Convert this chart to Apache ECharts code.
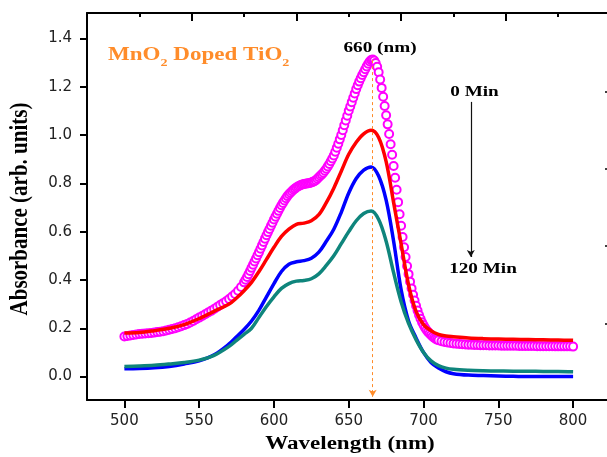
<!DOCTYPE html>
<html>
<head>
<meta charset="utf-8">
<script src="https://cdn.jsdelivr.net/npm/echarts@6/dist/echarts.min.js"></script>
<style>
  html, body { margin: 0; padding: 0; background: #fff; }
  #chart { width: 607px; height: 457px; }
</style>
</head>
<body>
<div id="chart"></div>
<script>
// Axis ticks
const xTickValues = [500, 550, 600, 650, 700, 750, 800];
const yTickValues = [0, 0.2, 0.4, 0.6, 0.8, 1.0, 1.2, 1.4];
const topLongTicks = [545, 615, 685, 755];
const topShortTicks = [510, 580, 650, 720, 790];
const rightTicks = [0.22, 0.54, 0.86, 1.18];

// Shared wavelength grid (nm) for the solid-line spectra
const lineWavelengths = [
  500, 510, 520, 530, 540, 550, 560, 570, 575, 580,
  585, 590, 595, 600, 605, 610, 615, 620, 625, 630,
  635, 640, 645, 650, 655, 660, 665, 670, 675, 680,
  685, 690, 695, 700, 705, 710, 715, 720, 730, 740,
  750, 760, 770, 780, 790, 800
];
const absRed = [
  0.180, 0.182, 0.190, 0.200, 0.215, 0.240, 0.270, 0.300, 0.325, 0.355,
  0.390, 0.435, 0.485, 0.535, 0.580, 0.610, 0.630, 0.635, 0.645, 0.670,
  0.720, 0.780, 0.850, 0.920, 0.970, 1.005, 1.020, 0.990, 0.890, 0.720,
  0.550, 0.380, 0.270, 0.215, 0.190, 0.175, 0.168, 0.165, 0.160, 0.157,
  0.155, 0.154, 0.153, 0.152, 0.151, 0.150
];
const absBlue = [
  0.032, 0.033, 0.036, 0.042, 0.052, 0.065, 0.090, 0.135, 0.165, 0.195,
  0.230, 0.275, 0.330, 0.385, 0.435, 0.465, 0.475, 0.480, 0.490, 0.515,
  0.560, 0.610, 0.680, 0.760, 0.820, 0.855, 0.868, 0.830, 0.730, 0.560,
  0.360, 0.230, 0.160, 0.100, 0.058, 0.035, 0.020, 0.012, 0.006, 0.004,
  0.002, 0.001, 0.000, 0.000, 0.000, 0.000
];
const absTeal = [
  0.042, 0.044, 0.047, 0.052, 0.058, 0.068, 0.088, 0.125, 0.150, 0.175,
  0.200, 0.245, 0.290, 0.330, 0.365, 0.385, 0.395, 0.398, 0.405, 0.425,
  0.460, 0.500, 0.550, 0.600, 0.645, 0.675, 0.685, 0.650, 0.560, 0.430,
  0.310, 0.220, 0.153, 0.100, 0.065, 0.045, 0.035, 0.030, 0.026, 0.024,
  0.023, 0.022, 0.022, 0.021, 0.021, 0.020
];

// Open-circle spectrum (0 min), sampled more finely around the band
const circleWavelengths = [
  500, 502, 504, 506, 508, 510, 512, 514, 516, 518,
  520, 522, 524, 526, 528, 530, 532, 534, 536, 538,
  540, 542, 544, 546, 548, 550, 552, 554, 556, 558,
  560, 562, 564, 566, 568, 570, 572, 574, 576, 578,
  580, 581, 582, 583, 584, 585, 586, 587, 588, 589,
  590, 591, 592, 593, 594, 595, 596, 597, 598, 599,
  600, 601, 602, 603, 604, 605, 606, 607, 608, 609,
  610, 611, 612, 613, 614, 615, 616, 617, 618, 619,
  620, 621, 622, 623, 624, 625, 626, 627, 628, 629,
  630, 631, 632, 633, 634, 635, 636, 637, 638, 639,
  640, 641, 642, 643, 644, 645, 646, 647, 648, 649,
  650, 651, 652, 653, 654, 655, 656, 657, 658, 659,
  660, 661, 662, 663, 664, 665, 666, 667, 668, 669,
  670, 671, 672, 673, 674, 675, 676, 677, 678, 679,
  680, 681, 682, 683, 684, 685, 686, 687, 688, 689,
  690, 691, 692, 693, 694, 695, 696, 697, 698, 699,
  700, 701, 702, 703, 704, 705, 706, 707, 708, 709,
  710,
  712, 714, 716, 718, 720, 722, 724, 726, 728, 730,
  732, 734, 736, 738, 740, 742, 744, 746, 748, 750,
  752, 754, 756, 758, 760, 762, 764, 766, 768, 770,
  772, 774, 776, 778, 780, 782, 784, 786, 788, 790,
  792, 794, 796, 798, 800
];
const absMagenta = [
  0.166, 0.168, 0.170, 0.172, 0.174, 0.176, 0.177, 0.178, 0.179, 0.180,
  0.182, 0.184, 0.186, 0.188, 0.191, 0.194, 0.197, 0.200, 0.204, 0.208,
  0.213, 0.218, 0.224, 0.230, 0.237, 0.244, 0.251, 0.258, 0.265, 0.272,
  0.280, 0.288, 0.296, 0.304, 0.312, 0.321, 0.331, 0.342, 0.355, 0.371,
  0.390, 0.401, 0.412, 0.424, 0.437, 0.450, 0.463, 0.476, 0.489, 0.502,
  0.515, 0.529, 0.543, 0.557, 0.571, 0.585, 0.598, 0.611, 0.624, 0.637,
  0.650, 0.662, 0.674, 0.686, 0.698, 0.709, 0.719, 0.729, 0.738, 0.747,
  0.755, 0.761, 0.767, 0.773, 0.778, 0.783, 0.787, 0.790, 0.793, 0.795,
  0.797, 0.798, 0.799, 0.800, 0.801, 0.803, 0.806, 0.809, 0.813, 0.819,
  0.825, 0.831, 0.837, 0.844, 0.852, 0.860, 0.870, 0.880, 0.891, 0.903,
  0.915, 0.931, 0.947, 0.964, 0.982, 1.000, 1.020, 1.040, 1.060, 1.080,
  1.100, 1.118, 1.136, 1.154, 1.172, 1.190, 1.206, 1.221, 1.235, 1.248,
  1.260, 1.272, 1.284, 1.295, 1.304, 1.310, 1.312, 1.308, 1.298, 1.282,
  1.260, 1.230, 1.195, 1.158, 1.120, 1.082, 1.044, 1.004, 0.962, 0.918,
  0.872, 0.823, 0.773, 0.722, 0.672, 0.624, 0.578, 0.535, 0.495, 0.458,
  0.424, 0.393, 0.365, 0.339, 0.315, 0.293, 0.273, 0.255, 0.239, 0.225,
  0.213, 0.202, 0.193, 0.185, 0.178, 0.172, 0.166, 0.161, 0.157, 0.153,
  0.150,
  0.146, 0.143, 0.141, 0.139, 0.137, 0.136, 0.135, 0.134, 0.133, 0.132,
  0.132, 0.131, 0.131, 0.130, 0.130, 0.130, 0.129, 0.129, 0.129, 0.129,
  0.128, 0.128, 0.128, 0.128, 0.128, 0.128, 0.127, 0.127, 0.127, 0.127,
  0.127, 0.127, 0.126, 0.126, 0.126, 0.126, 0.126, 0.126, 0.125, 0.125,
  0.125, 0.125, 0.125, 0.125, 0.124
];

// Peak marker and time-direction arrow (data coordinates)
const peakWavelength = 666;
const peakAbs = 1.31;
const peakLineBottom = -0.084;
const timeArrowWavelength = 731.6;
const timeArrowTop = 1.137;
const timeArrowBottom = 0.495;

const pairs = (xs, ys) => xs.map((x, i) => [x, ys[i]]);

const COL_MAGENTA = '#ff00ff';
const COL_RED = '#ff0000';
const COL_BLUE = '#0000ff';
const COL_TEAL = '#0f857c';
const COL_ORANGE = '#ff8c2a';
const SERIF = '"Liberation Serif", "Times New Roman", serif';
const SANS = '"DejaVu Sans", sans-serif';
const STRETCH = 1.28;

const chart = echarts.init(document.getElementById('chart'), null, { renderer: 'canvas' });

const axisLineStyle = { color: '#000', width: 2 };

const spectrumLine = (name, values, color, z) => ({
  name, type: 'line', z,
  data: pairs(lineWavelengths, values),
  showSymbol: false, smooth: 0.35,
  lineStyle: { color, width: 3.5, cap: 'butt', join: 'round' },
  emphasis: { disabled: true }, silent: true
});

const tealSeries = spectrumLine('120 Min', absTeal, COL_TEAL, 5);
tealSeries.markLine = {
  silent: true,
  label: { show: false },
  emphasis: { disabled: true },
  symbol: ['none', 'arrow'],
  symbolSize: [6, 7],
  data: [
    [
      { coord: [peakWavelength, peakAbs], lineStyle: { color: COL_ORANGE, type: [3, 3], width: 1 } },
      { coord: [peakWavelength, peakLineBottom] }
    ],
    [
      { coord: [timeArrowWavelength, timeArrowTop], lineStyle: { color: '#111', type: 'solid', width: 1.2 } },
      { coord: [timeArrowWavelength, timeArrowBottom] }
    ]
  ]
};

chart.setOption({
  animation: false,
  backgroundColor: '#fff',
  grid: { left: 87, top: 13, width: 522, height: 387, containLabel: false, outerBoundsMode: 'none' },
  xAxis: [
    {
      type: 'value', position: 'bottom', min: 475, max: 824,
      axisLine: { show: true, onZero: false, lineStyle: axisLineStyle },
      axisTick: { show: true, inside: false, length: 8, customValues: xTickValues, lineStyle: { color: '#000', width: 2 } },
      axisLabel: { show: true, customValues: xTickValues, margin: 14, color: '#222', fontFamily: SANS, fontSize: 15 },
      splitLine: { show: false }
    },
    {
      type: 'value', position: 'top', min: 475, max: 824,
      axisLine: { show: true, onZero: false, lineStyle: axisLineStyle },
      axisTick: { show: true, inside: true, length: 8, customValues: topLongTicks, lineStyle: { color: '#000', width: 2 } },
      axisLabel: { show: false },
      splitLine: { show: false }
    },
    {
      type: 'value', position: 'top', min: 475, max: 824,
      axisLine: { show: false, onZero: false },
      axisTick: { show: true, inside: true, length: 4, customValues: topShortTicks, lineStyle: { color: '#000', width: 2 } },
      axisLabel: { show: false },
      splitLine: { show: false }
    }
  ],
  yAxis: [
    {
      type: 'value', position: 'left', min: -0.097, max: 1.505,
      axisLine: { show: true, onZero: false, lineStyle: axisLineStyle },
      axisTick: { show: true, inside: false, length: 7, customValues: yTickValues, lineStyle: { color: '#000', width: 2 } },
      axisLabel: {
        show: true, customValues: yTickValues, margin: 15, color: '#222', fontFamily: SANS, fontSize: 15,
        formatter: v => v.toFixed(1)
      },
      splitLine: { show: false }
    },
    {
      type: 'value', position: 'right', min: -0.097, max: 1.505,
      axisLine: { show: false, onZero: false },
      axisTick: { show: true, inside: true, length: 4, customValues: rightTicks, lineStyle: { color: '#000', width: 1.5 } },
      axisLabel: { show: false },
      splitLine: { show: false }
    }
  ],
  series: [
    {
      name: '0 Min', type: 'line', z: 2,
      data: pairs(circleWavelengths, absMagenta),
      showSymbol: true, symbol: 'emptyCircle', symbolSize: 8,
      itemStyle: { color: COL_MAGENTA, borderColor: COL_MAGENTA, borderWidth: 1.1 },
      lineStyle: { width: 0, opacity: 0 },
      emphasis: { disabled: true }, silent: true
    },
    spectrumLine('red', absRed, COL_RED, 3),
    spectrumLine('blue', absBlue, COL_BLUE, 4),
    tealSeries
  ],
  graphic: [
    {
      type: 'text', x: 108, y: 55, scaleX: STRETCH, silent: true,
      style: {
        text: '{m|MnO}{s|2}{m| Doped TiO}{s|2}',
        textVerticalAlign: 'middle',
        rich: {
          m: { fill: COL_ORANGE, fontFamily: SERIF, fontWeight: 'bold', fontSize: 18, lineHeight: 22 },
          s: { fill: COL_ORANGE, fontFamily: SERIF, fontWeight: 'bold', fontSize: 11, lineHeight: 11, padding: [17, 0, 0, 0] }
        }
      }
    },
    {
      type: 'text', x: 380, y: 48, scaleX: STRETCH, silent: true,
      style: { text: '660 (nm)', fill: '#000', font: 'bold 15px ' + SERIF, textAlign: 'center', textVerticalAlign: 'middle' }
    },
    {
      type: 'text', x: 474.5, y: 92.5, scaleX: STRETCH, silent: true,
      style: { text: '0 Min', fill: '#000', font: 'bold 15px ' + SERIF, textAlign: 'center', textVerticalAlign: 'middle' }
    },
    {
      type: 'text', x: 483, y: 269.5, scaleX: STRETCH, silent: true,
      style: { text: '120 Min', fill: '#000', font: 'bold 15px ' + SERIF, textAlign: 'center', textVerticalAlign: 'middle' }
    },
    {
      type: 'text', x: 350, y: 444, scaleX: STRETCH, silent: true,
      style: { text: 'Wavelength (nm)', fill: '#000', font: 'bold 18px ' + SERIF, textAlign: 'center', textVerticalAlign: 'middle' }
    },
    {
      type: 'text', x: 21, y: 209, rotation: Math.PI / 2, scaleY: 1.15, silent: true,
      style: { text: 'Absorbance (arb. units)', fill: '#000', font: 'bold 21px ' + SERIF, textAlign: 'center', textVerticalAlign: 'middle' }
    }
  ]
});
</script>
</body>
</html>
